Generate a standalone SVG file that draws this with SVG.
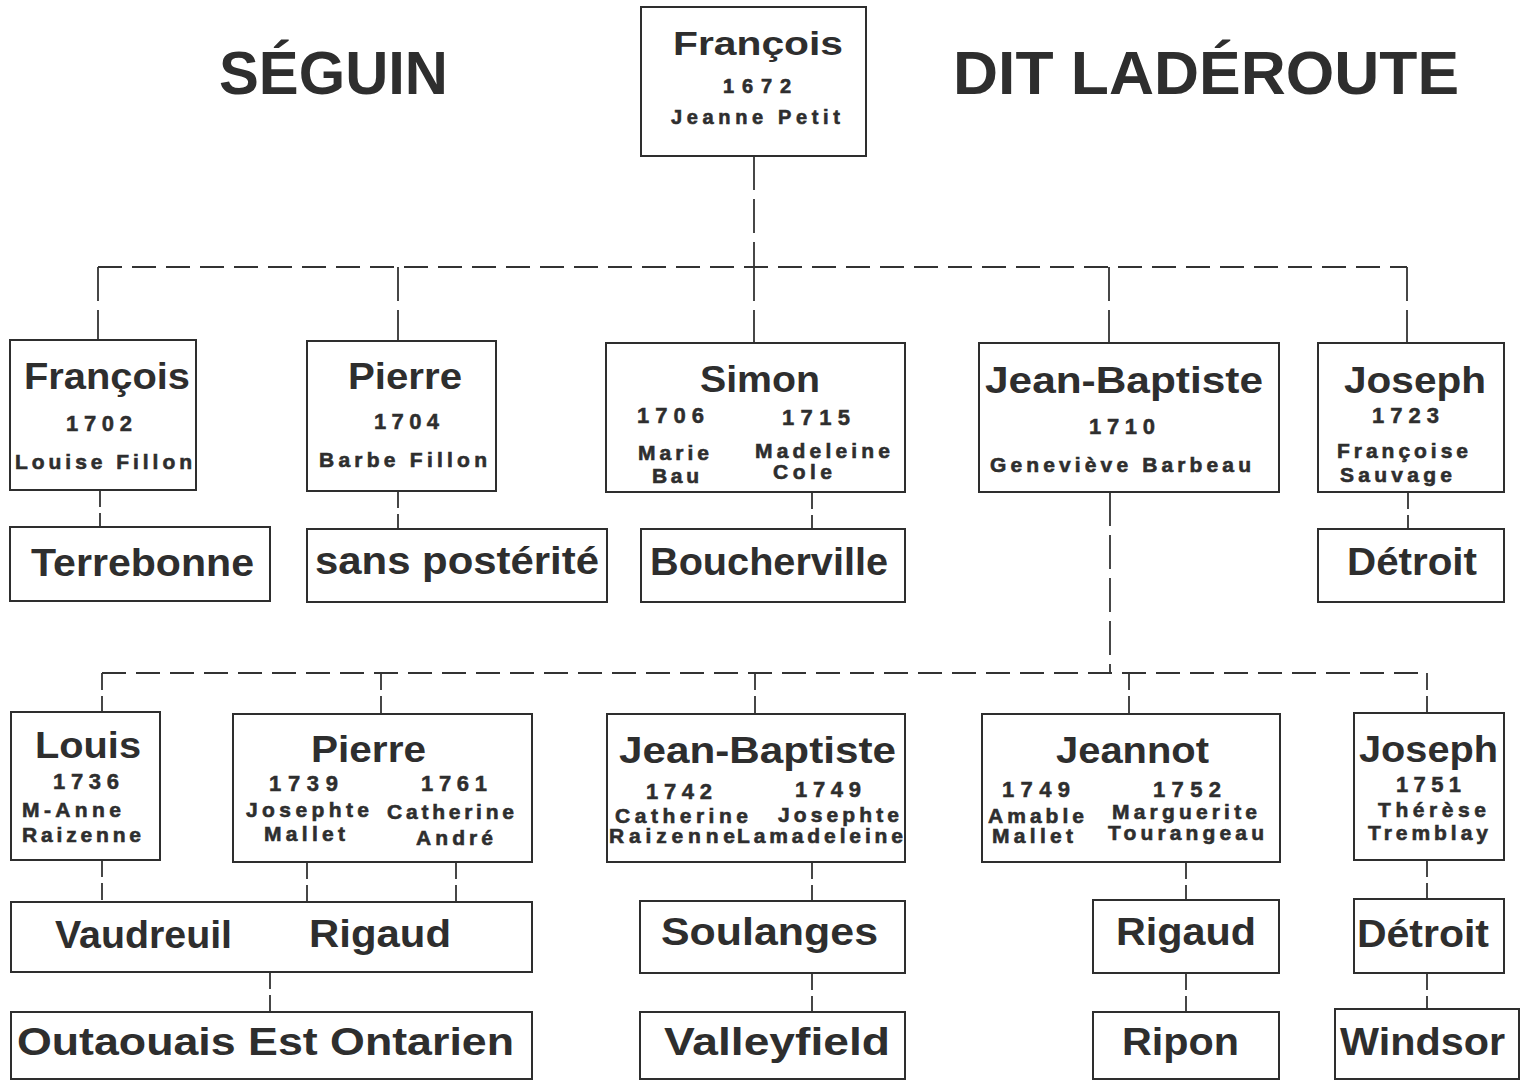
<svg xmlns="http://www.w3.org/2000/svg" width="1529" height="1082" viewBox="0 0 1529 1082">
<style>
text{font-family:"Liberation Sans",Arial,Helvetica,sans-serif;font-weight:bold;fill:#2e2e2e}
.t{font-size:62px}
.n{font-size:37px}
.p{font-size:38px}
.s{font-size:21px;stroke:#2e2e2e;stroke-width:0.6}
.d{font-size:22px;stroke:#2e2e2e;stroke-width:0.5}
.box{fill:none;stroke:#2e2e2e;stroke-width:2}
#connectors line{stroke:#333;stroke-width:1.8;fill:none}
.h{stroke-dasharray:24 10}
.v{stroke-dasharray:34 9}
.k{stroke-dasharray:17 6}
</style>
<rect width="1529" height="1082" fill="#fff"/>
<g id="titles">
<text class="t" x="219" y="94" textLength="229" lengthAdjust="spacingAndGlyphs">SÉGUIN</text>
<text class="t" x="953" y="94" textLength="506" lengthAdjust="spacingAndGlyphs">DIT LADÉROUTE</text>
</g>
<g id="connectors">
<line class="v" x1="754" y1="156" x2="754" y2="267"/>
<line class="h" x1="98" y1="267" x2="1407" y2="267"/>
<line class="v" x1="98" y1="267" x2="98" y2="340"/>
<line class="v" x1="398" y1="267" x2="398" y2="341"/>
<line class="v" x1="754" y1="267" x2="754" y2="343"/>
<line class="v" x1="1109" y1="267" x2="1109" y2="343"/>
<line class="v" x1="1407" y1="267" x2="1407" y2="343"/>
<line class="k" x1="100" y1="490" x2="100" y2="527"/>
<line class="k" x1="398" y1="491" x2="398" y2="529"/>
<line class="k" x1="812" y1="492" x2="812" y2="529"/>
<line class="k" x1="1408" y1="492" x2="1408" y2="529"/>
<line class="v" x1="1110" y1="492" x2="1110" y2="673"/>
<line class="h" x1="102" y1="673" x2="1427" y2="673"/>
<line class="k" x1="102" y1="673" x2="102" y2="712"/>
<line class="k" x1="381" y1="673" x2="381" y2="714"/>
<line class="k" x1="755" y1="673" x2="755" y2="714"/>
<line class="k" x1="1129" y1="673" x2="1129" y2="714"/>
<line class="k" x1="1427" y1="673" x2="1427" y2="713"/>
<line class="k" x1="102" y1="860" x2="102" y2="902"/>
<line class="k" x1="307" y1="862" x2="307" y2="902"/>
<line class="k" x1="456" y1="862" x2="456" y2="902"/>
<line class="k" x1="812" y1="862" x2="812" y2="901"/>
<line class="k" x1="1186" y1="862" x2="1186" y2="900"/>
<line class="k" x1="1427" y1="860" x2="1427" y2="899"/>
<line class="k" x1="270" y1="972" x2="270" y2="1012"/>
<line class="k" x1="812" y1="973" x2="812" y2="1012"/>
<line class="k" x1="1186" y1="973" x2="1186" y2="1012"/>
<line class="k" x1="1427" y1="973" x2="1427" y2="1009"/>
</g>
<g id="n-francois-1672">
<rect class="box" x="641" y="7" width="225" height="149"/>
<text class="n" style="font-size:33px" x="673" y="55" textLength="170" lengthAdjust="spacingAndGlyphs">François</text>
<text class="s" style="font-size:20px" x="723" y="93" textLength="68">1672</text>
<text class="s" style="font-size:20px" x="671" y="124" textLength="169">Jeanne Petit</text>
</g>
<g id="n-francois-1702">
<rect class="box" x="10" y="340" width="186" height="150"/>
<text class="n" x="24" y="389" textLength="166" lengthAdjust="spacingAndGlyphs">François</text>
<text class="d" x="66" y="431" textLength="66">1702</text>
<text class="s" x="15" y="469" textLength="177">Louise Fillon</text>
</g>
<g id="n-pierre-1704">
<rect class="box" x="307" y="341" width="189" height="150"/>
<text class="n" x="348" y="389" textLength="114" lengthAdjust="spacingAndGlyphs">Pierre</text>
<text class="d" x="374" y="429" textLength="65">1704</text>
<text class="s" x="319" y="467" textLength="168">Barbe Fillon</text>
</g>
<g id="n-simon">
<rect class="box" x="606" y="343" width="299" height="149"/>
<text class="n" x="700" y="392" textLength="120" lengthAdjust="spacingAndGlyphs">Simon</text>
<text class="d" x="637" y="423" textLength="67">1706</text>
<text class="d" x="782" y="425" textLength="68">1715</text>
<text class="s" x="638" y="460" textLength="71">Marie</text>
<text class="s" x="652" y="483" textLength="47">Bau</text>
<text class="s" x="755" y="458" textLength="135">Madeleine</text>
<text class="s" x="773" y="479" textLength="59">Cole</text>
</g>
<g id="n-jean-baptiste-1710">
<rect class="box" x="979" y="343" width="300" height="149"/>
<text class="n" x="985" y="393" textLength="278" lengthAdjust="spacingAndGlyphs">Jean-Baptiste</text>
<text class="d" x="1089" y="434" textLength="66">1710</text>
<text class="s" x="990" y="472" textLength="261">Geneviève Barbeau</text>
</g>
<g id="n-joseph-1723">
<rect class="box" x="1318" y="343" width="186" height="149"/>
<text class="n" x="1344" y="393" textLength="142" lengthAdjust="spacingAndGlyphs">Joseph</text>
<text class="d" x="1372" y="423" textLength="67">1723</text>
<text class="s" x="1337" y="458" textLength="131">Françoise</text>
<text class="s" x="1340" y="482" textLength="112">Sauvage</text>
</g>
<g id="n-terrebonne">
<rect class="box" x="10" y="527" width="260" height="74"/>
<text class="p" x="31" y="576" textLength="223" lengthAdjust="spacingAndGlyphs">Terrebonne</text>
</g>
<g id="n-sans-posterite">
<rect class="box" x="307" y="529" width="300" height="73"/>
<text class="p" x="315" y="574" textLength="284" lengthAdjust="spacingAndGlyphs">sans postérité</text>
</g>
<g id="n-boucherville">
<rect class="box" x="641" y="529" width="264" height="73"/>
<text class="p" x="650" y="575" textLength="238" lengthAdjust="spacingAndGlyphs">Boucherville</text>
</g>
<g id="n-detroit-1">
<rect class="box" x="1318" y="529" width="186" height="73"/>
<text class="p" x="1347" y="575" textLength="130" lengthAdjust="spacingAndGlyphs">Détroit</text>
</g>
<g id="n-louis">
<rect class="box" x="11" y="712" width="149" height="148"/>
<text class="n" x="35" y="758" textLength="106" lengthAdjust="spacingAndGlyphs">Louis</text>
<text class="d" x="53" y="789" textLength="66">1736</text>
<text class="s" x="22" y="817" textLength="99">M-Anne</text>
<text class="s" x="22" y="842" textLength="119">Raizenne</text>
</g>
<g id="n-pierre-1739">
<rect class="box" x="233" y="714" width="299" height="148"/>
<text class="n" x="311" y="762" textLength="115" lengthAdjust="spacingAndGlyphs">Pierre</text>
<text class="d" x="269" y="791" textLength="69">1739</text>
<text class="d" x="421" y="791" textLength="66">1761</text>
<text class="s" x="246" y="817" textLength="123">Josephte</text>
<text class="s" x="387" y="819" textLength="127">Catherine</text>
<text class="s" x="264" y="841" textLength="81">Mallet</text>
<text class="s" x="416" y="845" textLength="77">André</text>
</g>
<g id="n-jean-baptiste-1742">
<rect class="box" x="607" y="714" width="298" height="148"/>
<text class="n" x="619" y="763" textLength="277" lengthAdjust="spacingAndGlyphs">Jean-Baptiste</text>
<text class="d" x="646" y="799" textLength="66">1742</text>
<text class="d" x="795" y="797" textLength="66">1749</text>
<text class="s" x="615" y="823" textLength="133">Catherine</text>
<text class="s" x="778" y="822" textLength="121">Josephte</text>
<text class="s" x="609" y="843" textLength="126">Raizenne</text>
<text class="s" x="737" y="843" textLength="166">Lamadeleine</text>
</g>
<g id="n-jeannot">
<rect class="box" x="982" y="714" width="298" height="148"/>
<text class="n" x="1056" y="763" textLength="153" lengthAdjust="spacingAndGlyphs">Jeannot</text>
<text class="d" x="1002" y="797" textLength="68">1749</text>
<text class="d" x="1153" y="797" textLength="68">1752</text>
<text class="s" x="988" y="823" textLength="96">Amable</text>
<text class="s" x="1112" y="819" textLength="145">Marguerite</text>
<text class="s" x="992" y="843" textLength="81">Mallet</text>
<text class="s" x="1108" y="840" textLength="156">Tourangeau</text>
</g>
<g id="n-joseph-1751">
<rect class="box" x="1354" y="713" width="150" height="147"/>
<text class="n" x="1359" y="762" textLength="139" lengthAdjust="spacingAndGlyphs">Joseph</text>
<text class="d" x="1396" y="792" textLength="65">1751</text>
<text class="s" x="1378" y="817" textLength="108">Thérèse</text>
<text class="s" x="1368" y="840" textLength="120">Tremblay</text>
</g>
<g id="n-vaudreuil-rigaud">
<rect class="box" x="11" y="902" width="521" height="70"/>
<text class="p" x="55" y="948" textLength="177" lengthAdjust="spacingAndGlyphs">Vaudreuil</text>
<text class="p" x="309" y="947" textLength="142" lengthAdjust="spacingAndGlyphs">Rigaud</text>
</g>
<g id="n-soulanges">
<rect class="box" x="640" y="901" width="265" height="72"/>
<text class="p" x="661" y="945" textLength="217" lengthAdjust="spacingAndGlyphs">Soulanges</text>
</g>
<g id="n-rigaud">
<rect class="box" x="1093" y="900" width="186" height="73"/>
<text class="p" x="1116" y="945" textLength="140" lengthAdjust="spacingAndGlyphs">Rigaud</text>
</g>
<g id="n-detroit-2">
<rect class="box" x="1354" y="899" width="150" height="74"/>
<text class="p" x="1357" y="947" textLength="132" lengthAdjust="spacingAndGlyphs">Détroit</text>
</g>
<g id="n-outaouais">
<rect class="box" x="11" y="1012" width="521" height="67"/>
<text class="p" x="17" y="1055" textLength="497" lengthAdjust="spacingAndGlyphs">Outaouais Est Ontarien</text>
</g>
<g id="n-valleyfield">
<rect class="box" x="640" y="1012" width="265" height="67"/>
<text class="p" x="664" y="1055" textLength="226" lengthAdjust="spacingAndGlyphs">Valleyfield</text>
</g>
<g id="n-ripon">
<rect class="box" x="1093" y="1012" width="186" height="67"/>
<text class="p" x="1122" y="1055" textLength="117" lengthAdjust="spacingAndGlyphs">Ripon</text>
</g>
<g id="n-windsor">
<rect class="box" x="1335" y="1009" width="184" height="70"/>
<text class="p" x="1340" y="1055" textLength="165" lengthAdjust="spacingAndGlyphs">Windsor</text>
</g>
</svg>
